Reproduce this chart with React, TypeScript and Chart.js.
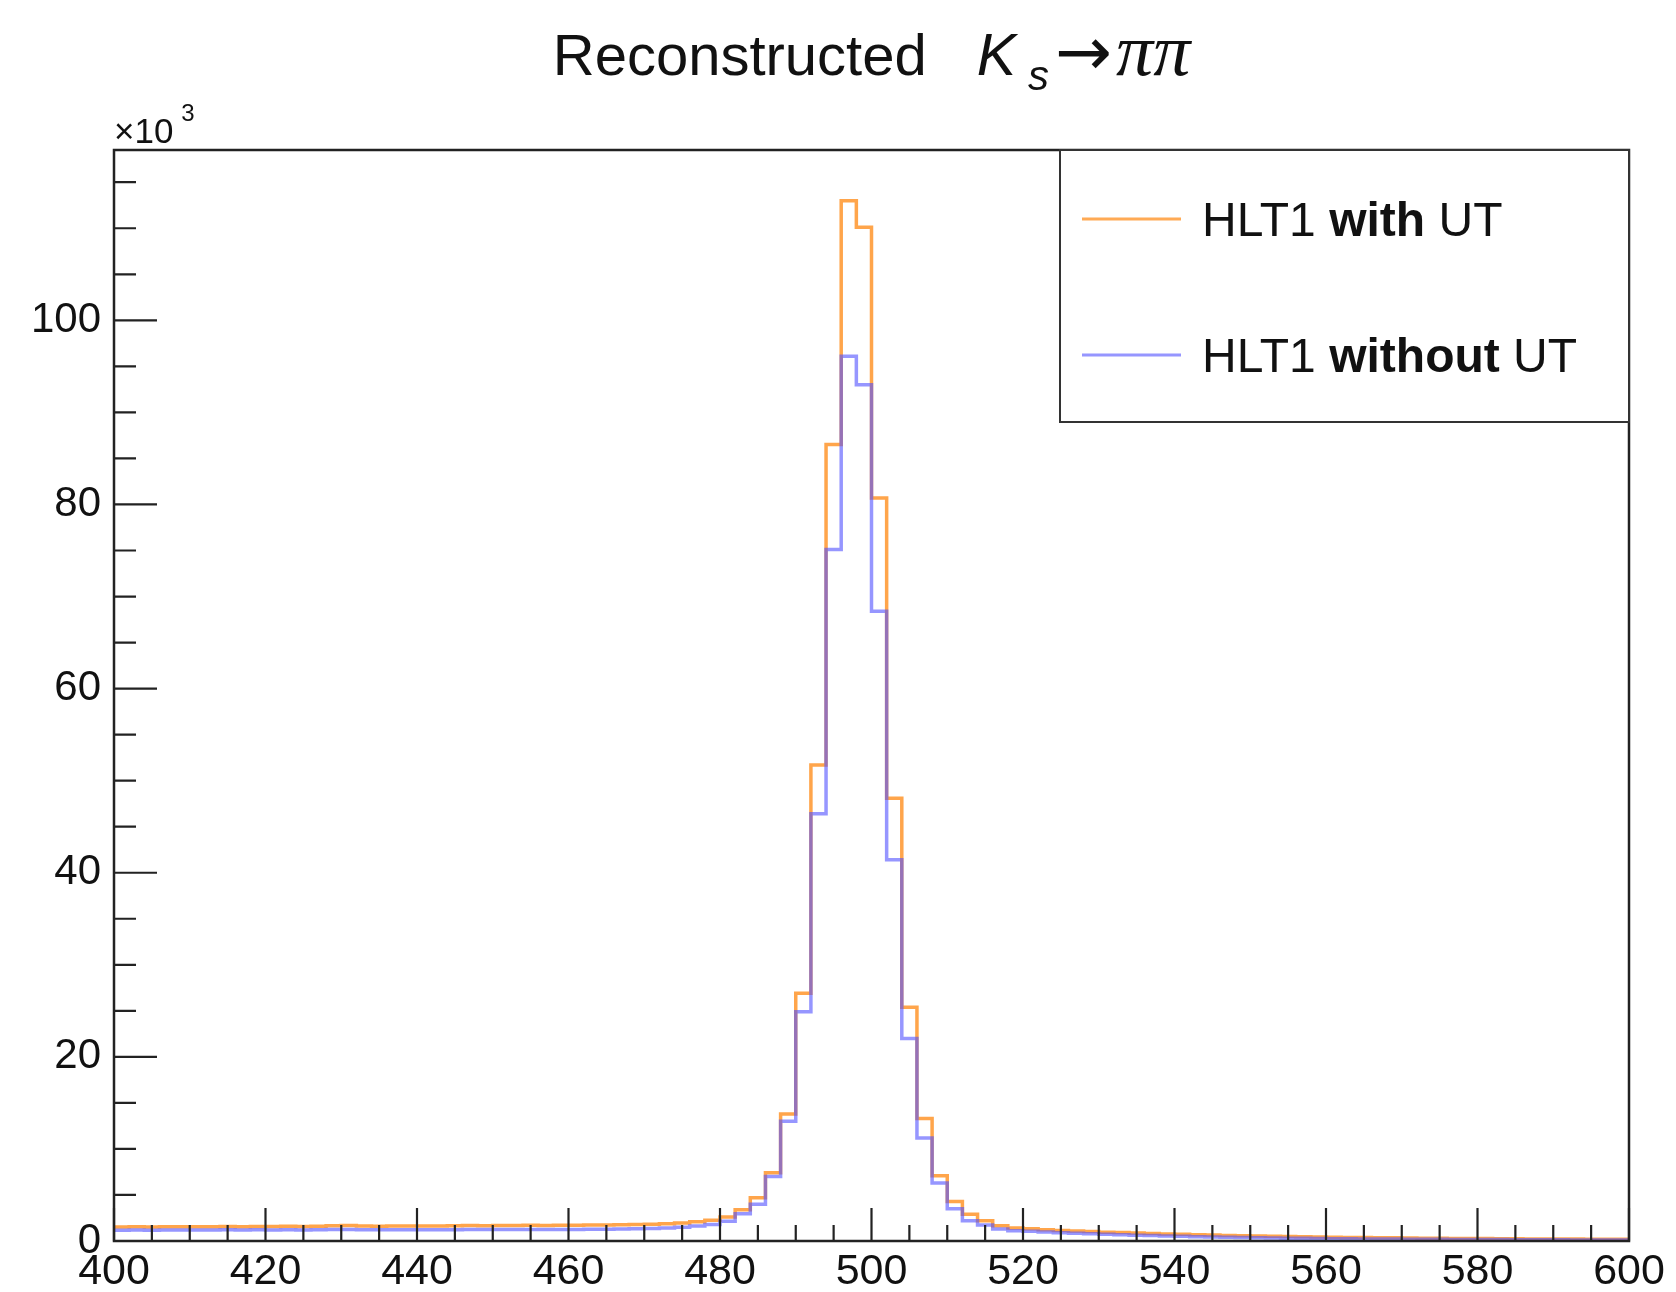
import React, { useEffect, useRef } from "react";
import { Chart, registerables } from "chart.js";

Chart.register(...registerables);

const W = 1676;
const H = 1292;

// ---- text ----
const titleMain = "Reconstructed";
const titleK = "K";
const titleSub = "s";
const titleArrow = "→";
const titlePiPi = "ππ";
const yExponentBase = "×10";
const yExponentPower = "3";
const legendLabels: string[][] = [
  ["HLT1 ", "with", " UT"],
  ["HLT1 ", "without", " UT"],
];

// ---- axes ----
const xMin = 400;
const xMax = 600;
const xMajorStep = 20;
const xMinorStep = 5;
const yMin = 0;
const yMax = 118.5;
const yMajorStep = 20;
const yMinorStep = 5;

// ---- histogram binning ----
const binStart = 400;
const binWidth = 2;

// counts per 2 MeV bin, in units of 10^3
const withUT = [
  1.52, 1.54, 1.53, 1.55, 1.54, 1.56, 1.55, 1.57, 1.56, 1.58,
  1.57, 1.59, 1.58, 1.6, 1.66, 1.68, 1.62, 1.61, 1.62, 1.63,
  1.62, 1.64, 1.65, 1.68, 1.66, 1.67, 1.68, 1.7, 1.69, 1.71,
  1.72, 1.73, 1.75, 1.76, 1.78, 1.82, 1.88, 1.95, 2.08, 2.25,
  2.6, 3.4, 4.7, 7.4, 13.8, 26.9, 51.7, 86.5, 113.0, 110.1,
  80.7, 48.1, 25.4, 13.3, 7.1, 4.3, 2.9, 2.2, 1.65, 1.42,
  1.32, 1.22, 1.15, 1.08, 1.02, 0.96, 0.91, 0.86, 0.82, 0.77,
  0.72, 0.68, 0.64, 0.6, 0.57, 0.54, 0.51, 0.48, 0.46, 0.43,
  0.41, 0.39, 0.37, 0.35, 0.34, 0.32, 0.31, 0.3, 0.28, 0.27,
  0.26, 0.25, 0.24, 0.23, 0.22, 0.22, 0.21, 0.2, 0.2, 0.19,
];

const withoutUT = [
  1.18, 1.19, 1.18, 1.2, 1.19, 1.2, 1.19, 1.21, 1.2, 1.21,
  1.2, 1.21, 1.2, 1.22, 1.24, 1.25, 1.22, 1.21, 1.22, 1.22,
  1.22, 1.23, 1.23, 1.25, 1.24, 1.24, 1.25, 1.26, 1.25, 1.26,
  1.26, 1.27, 1.28, 1.3, 1.32, 1.36, 1.42, 1.5, 1.62, 1.8,
  2.15, 2.95, 4.0, 7.0, 13.0, 24.9, 46.4, 75.1, 96.1, 93.0,
  68.4, 41.4, 22.0, 11.2, 6.3, 3.5, 2.2, 1.75, 1.3, 1.12,
  1.05, 0.97, 0.9, 0.84, 0.78, 0.73, 0.68, 0.63, 0.59, 0.55,
  0.51, 0.47, 0.44, 0.41, 0.38, 0.35, 0.33, 0.31, 0.29, 0.27,
  0.25, 0.24, 0.23, 0.22, 0.21, 0.2, 0.19, 0.18, 0.17, 0.16,
  0.15, 0.15, 0.14, 0.14, 0.13, 0.13, 0.12, 0.12, 0.11, 0.11,
];

const seriesColors = ["rgb(255,165,75)", "rgba(80,80,255,0.6)"];
const legendColors = ["rgb(255,170,85)", "rgb(150,150,255)"];

const SANS = '"Liberation Sans", Arial, Helvetica, sans-serif';
const SERIF = '"Liberation Serif", "Times New Roman", serif';

function toSteps(counts: number[]) {
  const pts = counts.map((c, i) => ({ x: binStart + i * binWidth, y: c }));
  pts.push({ x: binStart + counts.length * binWidth, y: counts[counts.length - 1] });
  return pts;
}

const decorPlugin = {
  id: "rootDecor",
  afterDraw(chart: any) {
    const { ctx, chartArea: ca, scales } = chart;
    const xs = scales.x;
    const ys = scales.y;
    ctx.save();

    // frame
    ctx.strokeStyle = "#222";
    ctx.lineWidth = 2.5;
    ctx.strokeRect(ca.left, ca.top, ca.right - ca.left, ca.bottom - ca.top);

    // inner ticks
    const xMajLen = 33, xMinLen = 16, yMajLen = 43, yMinLen = 22;
    ctx.lineWidth = 2.2;
    ctx.beginPath();
    const nx = Math.round((xs.max - xs.min) / xMinorStep);
    for (let k = 0; k <= nx; k++) {
      const v = xs.min + k * xMinorStep;
      const px = xs.getPixelForValue(v);
      const r = (v - xs.min) / xMajorStep;
      const major = Math.abs(r - Math.round(r)) < 1e-6;
      ctx.moveTo(px, ca.bottom);
      ctx.lineTo(px, ca.bottom - (major ? xMajLen : xMinLen));
    }
    const ny = Math.floor((ys.max - ys.min) / yMinorStep + 1e-9);
    for (let k = 0; k <= ny; k++) {
      const v = ys.min + k * yMinorStep;
      const py = ys.getPixelForValue(v);
      const r = (v - ys.min) / yMajorStep;
      const major = Math.abs(r - Math.round(r)) < 1e-6;
      ctx.moveTo(ca.left, py);
      ctx.lineTo(ca.left + (major ? yMajLen : yMinLen), py);
    }
    ctx.stroke();

    // exponent label
    ctx.fillStyle = "#111";
    ctx.textBaseline = "alphabetic";
    ctx.textAlign = "left";
    ctx.font = `35px ${SANS}`;
    ctx.fillText(yExponentBase, ca.left, ca.top - 7);
    const bw = ctx.measureText(yExponentBase).width;
    ctx.font = `24px ${SANS}`;
    ctx.fillText(yExponentPower, ca.left + bw + 8, ca.top - 29);

    // title
    const parts = [
      { text: titleMain, font: `58px ${SANS}`, dy: 0, gap: 50 },
      { text: titleK, font: `italic 59px ${SANS}`, dy: 0, gap: 12 },
      { text: titleSub, font: `italic 42px ${SANS}`, dy: 15, gap: 6 },
      { text: titleArrow, font: `68px "DejaVu Sans", sans-serif`, dy: 0, gap: 4 },
      { text: titlePiPi, font: `italic 74px ${SERIF}`, dy: 0, gap: 0 },
    ];
    let total = 0;
    const widths = parts.map((p) => {
      ctx.font = p.font;
      const w = ctx.measureText(p.text).width;
      total += w + p.gap;
      return w;
    });
    let tx = (ca.left + ca.right) / 2 - total / 2;
    const tBase = 75;
    parts.forEach((p, i) => {
      ctx.font = p.font;
      ctx.fillText(p.text, tx, tBase + p.dy);
      tx += widths[i] + p.gap;
    });

    // legend
    const lw = 569, lh = 272;
    const lx = ca.right - lw, ly = ca.top;
    ctx.fillStyle = "#fff";
    ctx.fillRect(lx, ly, lw, lh);
    ctx.strokeStyle = "#333";
    ctx.lineWidth = 2;
    ctx.strokeRect(lx, ly, lw, lh);
    const rowCenters = [ly + 69, ly + 205];
    legendLabels.forEach((segs, i) => {
      const cy = rowCenters[i];
      ctx.strokeStyle = legendColors[i];
      ctx.lineWidth = 3;
      ctx.beginPath();
      ctx.moveTo(lx + 22, cy);
      ctx.lineTo(lx + 121, cy);
      ctx.stroke();
      let sx = lx + 142;
      ctx.fillStyle = "#111";
      segs.forEach((s, j) => {
        ctx.font = `${j === 1 ? "bold " : ""}48px ${SANS}`;
        ctx.fillText(s, sx, cy + 17);
        sx += ctx.measureText(s).width;
      });
    });

    ctx.restore();
  },
};

export default function App() {
  const ref = useRef<HTMLCanvasElement>(null);
  useEffect(() => {
    const canvas = ref.current;
    if (!canvas) return;
    const chart = new Chart(canvas, {
      type: "line",
      data: {
        datasets: [
          {
            label: "HLT1 with UT",
            data: toSteps(withUT),
            borderColor: seriesColors[0],
            borderWidth: 3.5,
            pointRadius: 0,
            fill: false,
            stepped: "before",
            order: 2,
          },
          {
            label: "HLT1 without UT",
            data: toSteps(withoutUT),
            borderColor: seriesColors[1],
            borderWidth: 3.5,
            pointRadius: 0,
            fill: false,
            stepped: "before",
            order: 1,
          },
        ],
      },
      options: {
        responsive: false,
        animation: false,
        devicePixelRatio: 1,
        layout: { padding: { top: 150, right: 47, left: 0, bottom: 0 } },
        plugins: {
          legend: { display: false },
          title: { display: false },
          tooltip: { enabled: false },
        },
        scales: {
          x: {
            type: "linear",
            min: xMin,
            max: xMax,
            grid: { display: false, drawTicks: false },
            border: { display: false },
            ticks: {
              stepSize: xMajorStep,
              autoSkip: false,
              maxRotation: 0,
              includeBounds: false,
              padding: 5,
              color: "#111",
              font: { family: SANS, size: 43 },
            },
            afterFit: (s: any) => {
              s.height = 51;
            },
          },
          y: {
            type: "linear",
            min: yMin,
            max: yMax,
            grid: { display: false, drawTicks: false },
            border: { display: false },
            ticks: {
              stepSize: yMajorStep,
              includeBounds: false,
              padding: 13,
              color: "#111",
              font: { family: SANS, size: 42 },
            },
            afterFit: (s: any) => {
              s.width = 114;
            },
          },
        },
      },
      plugins: [decorPlugin],
    } as any);
    return () => chart.destroy();
  }, []);

  return (
    <div style={{ position: "fixed", left: 0, top: 0, width: W, height: H, background: "#fff" }}>
      <canvas ref={ref} width={W} height={H} style={{ display: "block", width: W, height: H }} />
    </div>
  );
}
